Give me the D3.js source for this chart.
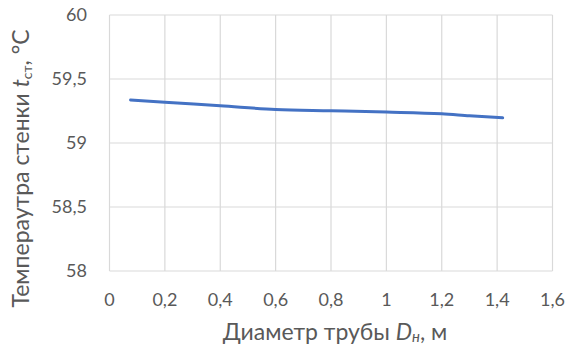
<!DOCTYPE html>
<html>
<head>
  <meta charset="utf-8">
  <script src="https://d3js.org/d3.v7.min.js"></script>
  <style>
    body { margin: 0; background: #fff; }
    text { font-family: Lato, "Open Sans", sans-serif; fill: #595959; }
  </style>
</head>
<body>
<div id="chart"></div>
<script>
  // values
  var diameter = [0.076, 0.2, 0.4, 0.6, 0.8, 1.0, 1.2, 1.3, 1.42];
  var wallTemp = [59.336, 59.318, 59.291, 59.262, 59.252, 59.242, 59.228, 59.213, 59.197];
  var xTicks = [0, 0.2, 0.4, 0.6, 0.8, 1, 1.2, 1.4, 1.6];
  var yTicks = [58, 58.5, 59, 59.5, 60];

  var width = 569, height = 350;
  var margin = {top: 15, right: 16.5, bottom: 79, left: 109.5};

  var svg = d3.select("#chart").append("svg")
    .attr("width", width)
    .attr("height", height);

  var x = d3.scaleLinear().domain([0, 1.6])
    .range([margin.left, width - margin.right]);
  var y = d3.scaleLinear().domain([58, 60])
    .range([height - margin.bottom, margin.top]);

  var fmt = function(d) { return String(d).replace(".", ","); };

  // grid
  svg.append("g").selectAll("line").data(xTicks).enter().append("line")
    .attr("x1", d => x(d)).attr("x2", d => x(d))
    .attr("y1", y(58)).attr("y2", y(60))
    .attr("stroke", "#d9d9d9").attr("stroke-width", 1.2);
  svg.append("g").selectAll("line").data(yTicks).enter().append("line")
    .attr("x1", x(0)).attr("x2", x(1.6))
    .attr("y1", d => y(d)).attr("y2", d => y(d))
    .attr("stroke", "#d9d9d9").attr("stroke-width", 1.2);

  // tick labels
  svg.append("g").selectAll("text").data(yTicks).enter().append("text")
    .attr("x", 87).attr("y", d => y(d)).attr("dy", "0.35em")
    .attr("text-anchor", "end").style("font-size", "18px")
    .text(fmt);
  svg.append("g").selectAll("text").data(xTicks).enter().append("text")
    .attr("x", d => x(d)).attr("y", 306)
    .attr("text-anchor", "middle").style("font-size", "18px")
    .text(fmt);

  // line
  var line = d3.line()
    .x((d, i) => x(diameter[i]))
    .y(d => y(d))
    .curve(d3.curveMonotoneX);
  svg.append("path").datum(wallTemp)
    .attr("d", line)
    .attr("fill", "none")
    .attr("stroke", "#4472c4")
    .attr("stroke-width", 3)
    .attr("stroke-linecap", "round");

  // x title
  var xt = svg.append("text")
    .attr("x", 335).attr("y", 340)
    .attr("text-anchor", "middle").style("font-size", "23px");
  xt.append("tspan").text("Диаметр трубы ");
  xt.append("tspan").style("font-style", "italic").text("D");
  xt.append("tspan").style("font-style", "italic").style("font-size", "15px").attr("dy", 2).text("н");
  xt.append("tspan").attr("dy", -2).text(", м");

  // y title
  var yt = svg.append("text")
    .attr("transform", "translate(28.5," + 168.5 + ") rotate(-90)")
    .attr("text-anchor", "middle").style("font-size", "23px");
  yt.append("tspan").text("Темпераутра стенки ");
  yt.append("tspan").style("font-style", "italic").text("t");
  yt.append("tspan").style("font-size", "14px").attr("dy", 3).text("ст");
  yt.append("tspan").attr("dy", -3).text(", °C");
</script>
</body>
</html>
